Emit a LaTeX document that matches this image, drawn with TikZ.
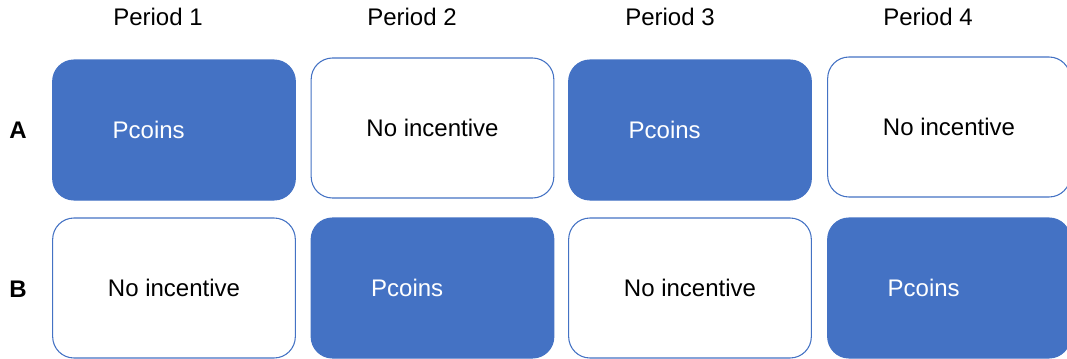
\documentclass[tikz,border=0pt]{standalone}
\usepackage{fontspec}
\setmainfont{Liberation Sans}
\usepackage{xcolor}
\definecolor{pblue}{HTML}{4472C4}

\begin{document}
\begin{tikzpicture}[x=0.75pt, y=-0.75pt,
    every node/.style={font=\fontsize{18}{20}\selectfont},
    cell/.style={rectangle, rounded corners=16pt, draw=pblue, line width=0.8pt,
                 minimum width=182pt, minimum height=105pt},
    paid/.style={cell, fill=pblue, text=white, text width=92pt, align=left},
    none/.style={cell, fill=white, text=black},
    group/.style={font=\fontsize{18}{20}\selectfont\bfseries}]
  \useasboundingbox (0,0) rectangle (1067,358);
  % periods
  \node (P1) at (158,17) {Period 1};
  \node (P2) at (412,17) {Period 2};
  \node (P3) at (670,17) {Period 3};
  \node (P4) at (928,17) {Period 4};
  % groups
  \node[group] (A) at (18,130) {A};
  \node[group] (B) at (18,289) {B};
  % row A
  \node[paid] (A1) at (174,130)   {Pcoins};
  \node[none] (A2) at (432.5,128) {No incentive};
  \node[paid] (A3) at (690,130)   {Pcoins};
  \node[none] (A4) at (949,127)   {No incentive};
  % row B
  \node[none] (B1) at (174,288)   {No incentive};
  \node[paid] (B2) at (432.5,288) {Pcoins};
  \node[none] (B3) at (690,288)   {No incentive};
  \node[paid] (B4) at (949,288)   {Pcoins};
\end{tikzpicture}
\end{document}
